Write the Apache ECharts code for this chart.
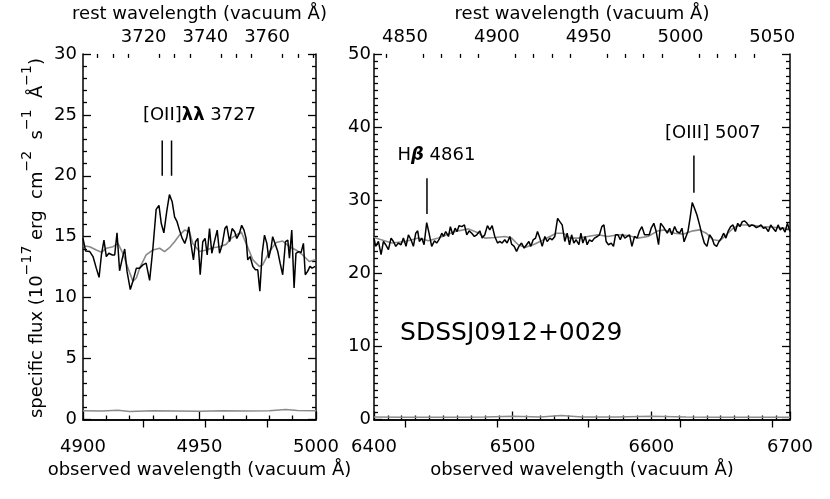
<!DOCTYPE html>
<html>
<head>
<meta charset="utf-8">
<script src="https://cdn.jsdelivr.net/npm/echarts@6/dist/echarts.min.js"></script>
<style>
html,body{margin:0;padding:0;background:#fff;}
#chart{width:830px;height:499px;}
</style>
</head>
<body>
<div id="chart"></div>
<script>
// ---------------- data ----------------
const onePlusZ = 1.3242;

// left panel: [OII] region (observed wavelength, flux)
const leftWave = [4900.0,4901.1,4902.9,4904.3,4905.7,4906.9,4907.9,4909.0,4910.0,4911.1,4912.6,4913.6,4914.6,4915.7,4916.9,4917.9,4918.9,4920.3,4921.4,4922.9,4924.3,4925.7,4927.1,4928.6,4930.0,4931.4,4932.6,4933.6,4934.7,4936.0,4937.1,4938.3,4939.3,4940.4,4941.4,4942.6,4943.7,4944.6,4945.4,4946.4,4947.4,4948.3,4949.3,4950.3,4951.4,4952.4,4953.3,4954.3,4955.3,4956.4,4957.6,4958.6,4959.7,4960.9,4961.7,4962.9,4964.0,4965.1,4966.0,4967.1,4968.1,4969.1,4970.0,4970.7,4971.7,4972.9,4974.0,4975.0,4975.9,4976.9,4977.9,4978.9,4979.7,4980.7,4981.4,4982.4,4983.6,4984.6,4985.7,4986.9,4987.9,4988.6,4989.6,4990.6,4991.4,4992.6,4993.6,4994.6,4995.4,4996.4,4997.4,4998.3,4999.7];
const leftFlux = [14.86,13.83,13.78,13.37,12.42,11.66,13.50,14.72,13.37,13.64,13.50,13.50,15.32,12.20,13.24,13.99,12.15,10.66,11.34,12.42,12.42,12.69,12.83,11.42,14.05,17.24,17.57,16.08,15.32,17.16,18.46,17.84,16.62,16.21,15.54,14.86,14.45,15.00,15.81,14.32,13.10,14.59,14.86,11.88,14.59,14.86,13.50,15.67,13.64,14.59,15.54,13.64,14.32,15.67,15.89,14.59,15.67,15.40,14.86,15.27,15.94,15.54,14.86,13.10,13.37,12.56,12.29,12.29,10.52,13.64,15.13,14.45,13.24,14.05,15.00,14.45,13.78,12.83,11.88,14.59,14.72,13.24,15.54,10.80,13.64,13.78,13.70,14.45,11.88,12.15,12.56,12.42,12.56];
const leftModelWave = [4900.0,4902.9,4905.7,4907.9,4910.0,4912.9,4915.0,4917.1,4919.3,4921.4,4922.9,4924.3,4927.1,4930.0,4932.9,4935.0,4937.1,4939.3,4941.4,4943.6,4945.7,4947.1,4950.0,4952.9,4955.7,4958.6,4961.4,4963.6,4965.7,4967.9,4970.0,4972.9,4975.7,4977.1,4980.0,4982.9,4985.7,4988.6,4991.4,4994.3,4997.1,4999.7];
const leftModelFlux = [14.26,14.18,13.91,13.72,14.05,14.18,14.45,13.64,12.42,11.34,11.61,12.42,13.50,13.91,14.05,13.78,14.10,14.59,15.13,15.54,15.40,14.45,13.78,13.91,14.10,14.18,14.37,14.86,15.13,15.40,14.45,13.10,12.56,12.69,13.78,14.53,14.64,14.18,13.91,13.50,12.96,13.10];
const leftErrWave = [4900,4908,4915,4920,4930,4940,4950,4960,4970,4980,4987,4992,5000];
const leftErrFlux = [0.72,0.70,0.76,0.66,0.72,0.70,0.68,0.72,0.70,0.72,0.82,0.74,0.72];

// right panel: Hbeta / [OIII] region
const rightWave = [6400.0,6401.2,6403.2,6405.1,6406.8,6408.4,6410.4,6412.3,6414.0,6415.7,6417.6,6419.5,6421.2,6423.1,6424.8,6426.7,6428.4,6430.1,6431.5,6432.7,6434.4,6436.1,6438.0,6439.7,6441.6,6443.6,6445.2,6447.2,6448.9,6450.1,6451.7,6453.7,6455.1,6456.8,6458.5,6459.9,6461.4,6463.3,6465.2,6466.9,6468.6,6470.5,6472.4,6474.1,6476.3,6478.0,6479.9,6481.8,6483.5,6485.2,6487.1,6489.1,6490.7,6492.4,6494.3,6496.0,6498.0,6499.2,6501.1,6502.8,6504.5,6506.4,6508.3,6510.0,6511.7,6513.1,6514.8,6516.5,6517.9,6519.6,6521.3,6523.2,6524.9,6526.8,6528.5,6530.4,6532.4,6534.0,6535.7,6537.6,6539.3,6541.0,6542.5,6544.1,6545.8,6547.8,6549.2,6550.6,6552.3,6553.7,6555.4,6557.1,6559.0,6561.0,6562.6,6564.3,6565.8,6567.4,6569.1,6571.1,6572.7,6574.2,6575.9,6577.6,6579.2,6580.9,6582.6,6584.3,6586.0,6587.9,6589.8,6591.5,6593.2,6595.1,6596.8,6598.5,6599.9,6601.8,6603.5,6605.2,6606.7,6608.6,6610.0,6611.5,6613.2,6614.8,6616.8,6618.4,6620.4,6622.1,6623.6,6626.4,6628.1,6629.5,6631.2,6632.9,6634.8,6636.5,6638.2,6640.1,6642.0,6643.7,6645.4,6647.1,6648.8,6650.5,6652.1,6653.8,6655.5,6657.2,6658.9,6660.6,6662.3,6663.9,6665.6,6667.3,6669.0,6670.7,6672.4,6674.0,6675.7,6677.4,6679.1,6680.8,6682.5,6684.4,6686.1,6687.8,6689.7,6691.4,6693.0,6694.7,6696.4,6698.1,6700.0];
const rightFlux = [24.81,23.68,24.35,22.55,24.35,23.90,23.23,24.81,24.35,23.68,24.13,23.90,24.81,23.68,25.26,24.58,23.68,25.48,25.80,24.35,24.81,23.90,26.93,25.48,23.68,24.44,24.13,24.71,25.48,25.03,25.71,25.03,26.38,25.26,26.16,25.71,26.52,26.38,26.61,25.26,25.80,25.48,25.03,25.26,25.80,24.81,25.26,26.52,25.93,26.52,25.03,24.13,24.35,24.13,24.58,24.13,25.03,23.99,23.68,23.00,23.68,24.13,23.45,23.90,24.35,23.68,24.58,24.81,25.71,24.81,23.68,25.03,24.35,24.81,24.58,25.03,27.51,27.06,26.61,24.35,25.48,23.90,25.26,24.13,24.58,23.90,25.48,24.13,25.03,23.90,24.58,24.35,24.81,25.03,25.26,26.38,26.61,24.35,23.90,24.13,23.68,25.26,25.26,24.58,25.35,24.81,25.03,25.26,23.68,25.03,24.81,25.80,26.38,25.26,25.26,25.26,26.16,26.83,25.71,23.90,26.83,26.38,25.93,25.48,26.16,25.26,26.38,25.71,25.48,26.16,24.30,25.71,27.74,29.68,28.87,27.96,26.61,25.26,24.13,23.68,25.26,24.81,23.90,23.68,24.35,24.81,25.48,24.81,25.80,26.38,26.61,25.71,26.83,26.38,27.06,27.15,26.83,26.38,26.61,26.52,26.25,26.38,26.61,26.16,26.25,25.71,26.61,26.16,25.71,26.61,25.93,26.25,25.62,26.83,25.70];
const rightModelWave = [6400.0,6412.8,6422.4,6432.0,6439.2,6446.4,6458.5,6468.1,6475.8,6479.9,6487.1,6494.3,6499.2,6504.0,6508.8,6514.8,6520.8,6526.8,6531.6,6536.5,6541.3,6547.3,6554.2,6561.4,6568.7,6575.9,6583.1,6590.3,6597.5,6604.7,6609.5,6616.8,6622.8,6630.0,6634.8,6639.6,6644.5,6649.3,6654.1,6658.9,6663.7,6670.9,6680.5,6690.2,6700.0];
const rightModelFlux = [24.90,24.13,24.35,24.81,24.44,24.81,25.71,26.07,25.48,24.81,24.90,25.03,24.81,23.90,23.54,23.90,24.44,25.03,25.48,25.48,24.81,24.81,25.03,25.26,25.03,25.26,25.17,24.81,25.03,25.80,25.93,25.48,25.35,25.80,25.93,25.48,24.58,24.44,25.26,26.16,26.61,26.61,26.38,26.25,26.07];
const rightErrWave = [6400,6420,6450,6480,6500,6520,6535,6550,6575,6600,6625,6650,6675,6700];
const rightErrFlux = [0.35,0.30,0.30,0.35,0.45,0.35,0.55,0.35,0.35,0.45,0.35,0.30,0.30,0.30];

// tick values
const leftRestMajor = [3720, 3740, 3760];
const leftRestMinor = [3705, 3710, 3715, 3725, 3730, 3735, 3745, 3750, 3755, 3765, 3770, 3775];
const rightRestMajor = [4850, 4900, 4950, 5000, 5050];
const rightRestMinor = [4840, 4860, 4870, 4880, 4890, 4910, 4920, 4930, 4940, 4960, 4970, 4980, 4990, 5010, 5020, 5030, 5040];

// line identifications: observed wavelength, bottom & top of marker
const oiiMarks = [[4934.0, 20.0, 22.9], [4938.0, 20.0, 22.9]];
const hbMark = [6438.2, 28.1, 33.0];
const oiiiMark = [6630.7, 31.0, 36.1];
// label anchors [x, y]
const oiiLabelPos = [4950.0, 25.0];
const hbLabelPos = [6445.0, 36.1];
const oiiiLabelPos = [6644.4, 39.2];
const nameLabelPos = [6499.0, 11.8];

// ---------------- chart ----------------
const FONT = 'DejaVu Sans';
const zip = (a, b) => a.map((v, i) => [v, b[i]]);
const axLine = {show: true, lineStyle: {color: '#000', width: 1.5}};
const txt = {color: '#000', fontFamily: FONT, fontSize: 18};
const plain = v => String(Math.round(v));

function bottomAxis(grid, min, max, interval, split, name) {
  return {
    gridIndex: grid, type: 'value', position: 'bottom', min: min, max: max, interval: interval,
    axisLine: axLine,
    axisTick: {show: true, inside: true, length: 8, lineStyle: {color: '#000', width: 1.3}},
    minorTick: {show: true, splitNumber: split, length: 4, lineStyle: {color: '#000', width: 1.3}},
    axisLabel: Object.assign({margin: 19, formatter: plain, showMinLabel: true, showMaxLabel: true, hideOverlap: false}, txt),
    splitLine: {show: false}, minorSplitLine: {show: false},
    name: name, nameLocation: 'middle', nameGap: 42, nameTextStyle: txt
  };
}
function topAxis(grid, min, max, values, name) {
  return {
    gridIndex: grid, type: 'value', position: 'top', min: min, max: max,
    axisLine: axLine,
    axisTick: {show: true, inside: true, length: 8, customValues: values, lineStyle: {color: '#000', width: 1.3}},
    axisLabel: Object.assign({margin: 8, formatter: plain, customValues: values, hideOverlap: false}, txt),
    splitLine: {show: false},
    name: name, nameLocation: 'middle', nameGap: 19, nameTextStyle: txt
  };
}
function topMinorAxis(grid, min, max, values) {
  return {
    gridIndex: grid, type: 'value', position: 'top', min: min, max: max,
    axisLine: {show: false},
    axisTick: {show: true, inside: true, length: 4, customValues: values, lineStyle: {color: '#000', width: 1.3}},
    axisLabel: {show: false, customValues: values},
    splitLine: {show: false}
  };
}
function yAxisMain(grid, max, interval, split, margin) {
  return {
    gridIndex: grid, type: 'value', position: 'left', min: 0, max: max, interval: interval,
    axisLine: axLine,
    axisTick: {show: true, inside: true, length: 8, lineStyle: {color: '#000', width: 1.3}},
    minorTick: {show: true, splitNumber: split, length: 4, lineStyle: {color: '#000', width: 1.3}},
    axisLabel: Object.assign({margin: margin, formatter: plain, showMinLabel: true, showMaxLabel: true, hideOverlap: false}, txt),
    splitLine: {show: false}, minorSplitLine: {show: false}
  };
}
function yAxisMirror(grid, max, interval, split) {
  return {
    gridIndex: grid, type: 'value', position: 'right', min: 0, max: max, interval: interval,
    axisLine: axLine,
    axisTick: {show: true, inside: true, length: 8, lineStyle: {color: '#000', width: 1.3}},
    minorTick: {show: true, splitNumber: split, length: 4, lineStyle: {color: '#000', width: 1.3}},
    axisLabel: {show: false},
    splitLine: {show: false}, minorSplitLine: {show: false}
  };
}
function lineSeries(xi, yi, data, color, width, z) {
  return {type: 'line', xAxisIndex: xi, yAxisIndex: yi, data: data, showSymbol: false, symbol: 'none',
    lineStyle: {color: color, width: width}, itemStyle: {color: color}, z: z || 2, silent: true, animation: false};
}
function textSeries(xi, yi, pos, formatter, rich, fontSize) {
  return {type: 'scatter', xAxisIndex: xi, yAxisIndex: yi, data: [pos], symbolSize: 0, silent: true, animation: false,
    itemStyle: {opacity: 1, color: '#000'},
    label: {show: true, position: 'inside', formatter: formatter, color: '#000', opacity: 1,
      fontFamily: FONT, fontSize: fontSize || 18, rich: rich || {}}};
}

const gray = '#8a8a8a';
const series = [
  lineSeries(0, 0, zip(leftErrWave, leftErrFlux), gray, 1.6, 2),
  lineSeries(0, 0, zip(leftModelWave, leftModelFlux), gray, 1.6, 2),
  lineSeries(0, 0, zip(leftWave, leftFlux), '#000', 1.5, 3),
  lineSeries(3, 2, zip(rightErrWave, rightErrFlux), gray, 1.6, 2),
  lineSeries(3, 2, zip(rightModelWave, rightModelFlux), gray, 1.6, 2),
  lineSeries(3, 2, zip(rightWave, rightFlux), '#000', 1.5, 3),
];
oiiMarks.forEach(m => series.push(lineSeries(0, 0, [[m[0], m[1]], [m[0], m[2]]], '#000', 1.5, 3)));
series.push(lineSeries(3, 2, [[hbMark[0], hbMark[1]], [hbMark[0], hbMark[2]]], '#000', 1.5, 3));
series.push(lineSeries(3, 2, [[oiiiMark[0], oiiiMark[1]], [oiiiMark[0], oiiiMark[2]]], '#000', 1.5, 3));

const richBase = {n: {fontFamily: FONT, fontSize: 18, color: '#000'},
  g: {fontFamily: FONT, fontSize: 18, color: '#000', fontWeight: 'bold'},
  gi: {fontFamily: FONT, fontSize: 18, color: '#000', fontWeight: 'bold', fontStyle: 'italic'}};
series.push(textSeries(0, 0, oiiLabelPos, '{n|[OII]}{g|λλ}{n| 3727}', richBase));
series.push(textSeries(3, 2, hbLabelPos, '{n|H}{gi|β}{n| 4861}', richBase));
series.push(textSeries(3, 2, oiiiLabelPos, '{n|[OIII] 5007}', richBase));
series.push(textSeries(3, 2, nameLabelPos, 'SDSSJ0912+0029', null, 25));

const option = {
  animation: false,
  backgroundColor: '#fff',
  grid: [
    {left: 83, top: 50, width: 233, height: 369.5, containLabel: false},
    {left: 374, top: 50, width: 416, height: 369.5, containLabel: false}
  ],
  xAxis: [
    bottomAxis(0, 4900, 5000, 50, 5, 'observed wavelength (vacuum Å)'),
    topAxis(0, 4900 / onePlusZ, 5000 / onePlusZ, leftRestMajor, 'rest wavelength (vacuum Å)'),
    topMinorAxis(0, 4900 / onePlusZ, 5000 / onePlusZ, leftRestMinor),
    bottomAxis(1, 6400, 6700, 100, 10, 'observed wavelength (vacuum Å)'),
    topAxis(1, 6400 / onePlusZ, 6700 / onePlusZ, rightRestMajor, 'rest wavelength (vacuum Å)'),
    topMinorAxis(1, 6400 / onePlusZ, 6700 / onePlusZ, rightRestMinor)
  ],
  yAxis: [
    yAxisMain(0, 30, 5, 5, 6),
    yAxisMirror(0, 30, 5, 5),
    yAxisMain(1, 50, 10, 10, 3),
    yAxisMirror(1, 50, 10, 10)
  ],
  graphic: [{
    type: 'text', x: 33, y: 238, rotation: Math.PI / 2,
    style: {
      text: '{n|specific flux (10}{s|−17}{n| erg  cm}{s|−2}{n|  s}{s|−1}{n|  Å}{s|−1}{n|)}',
      align: 'center', verticalAlign: 'middle',
      rich: {
        n: {fontFamily: FONT, fontSize: 18, fill: '#000', lineHeight: 26, verticalAlign: 'bottom'},
        s: {fontFamily: FONT, fontSize: 14, fill: '#000', lineHeight: 26, verticalAlign: 'top'}
      }
    }
  }],
  series: series
};

const chart = echarts.init(document.getElementById('chart'), null, {renderer: 'canvas'});
chart.setOption(option);
</script>
</body>
</html>
